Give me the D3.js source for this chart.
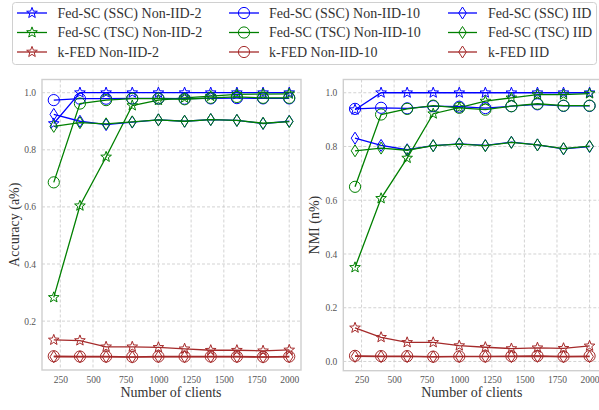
<!DOCTYPE html>
<html><head><meta charset="utf-8">
<script src="https://cdn.jsdelivr.net/npm/d3@7"></script>
<style>
html,body{margin:0;padding:0;background:#fff;}
svg{display:block;}
svg text{font-family:"Liberation Serif","Times New Roman","DejaVu Serif",serif;}
</style></head>
<body><svg id="c" width="599" height="410"></svg>
<script>
const clients = [200,400,600,800,1000,1200,1400,1600,1800,2000];
const xTicks = [250,500,750,1000,1250,1500,1750,2000];
const accTicks = [0.2,0.4,0.6,0.8,1.0];
const nmiTicks = [0.0,0.2,0.4,0.6,0.8,1.0];

const seriesNames = ["Fed-SC (SSC) Non-IID-2","Fed-SC (TSC) Non-IID-2","k-FED Non-IID-2",
  "Fed-SC (SSC) Non-IID-10","Fed-SC (TSC) Non-IID-10","k-FED Non-IID-10",
  "Fed-SC (SSC) IID","Fed-SC (TSC) IID","k-FED IID"];

// Accuracy
const accSscN2  = [0.892,1.0,1.0,1.0,1.0,1.0,1.0,1.0,1.0,1.0];
const accTscN2  = [0.283,0.604,0.775,0.955,0.974,0.982,0.988,0.994,0.995,0.996];
const accKfedN2 = [0.134,0.132,0.110,0.110,0.108,0.103,0.098,0.098,0.096,0.099];
const accSscN10 = [0.974,0.979,0.979,0.980,0.980,0.979,0.980,0.981,0.980,0.980];
const accTscN10 = [0.686,0.962,0.974,0.979,0.979,0.977,0.982,0.985,0.982,0.982];
const accKfedN10= [0.077,0.076,0.076,0.075,0.076,0.076,0.076,0.076,0.075,0.076];
const accSscIID = [0.924,0.900,0.888,0.897,0.905,0.900,0.906,0.903,0.892,0.900];
const accTscIID = [0.882,0.895,0.891,0.898,0.905,0.900,0.906,0.903,0.893,0.899];
const accKfedIID= [0.075,0.075,0.075,0.074,0.075,0.075,0.075,0.075,0.074,0.075];

// NMI
const nmiSscN2  = [0.937,1.0,1.0,1.0,1.0,1.0,1.0,1.0,1.0,1.0];
const nmiTscN2  = [0.350,0.607,0.757,0.922,0.945,0.969,0.981,0.993,0.993,0.997];
const nmiKfedN2 = [0.125,0.090,0.071,0.071,0.059,0.053,0.048,0.051,0.049,0.058];
const nmiSscN10 = [0.940,0.944,0.942,0.950,0.948,0.943,0.950,0.957,0.951,0.951];
const nmiTscN10 = [0.650,0.919,0.940,0.952,0.944,0.937,0.950,0.959,0.952,0.952];
const nmiKfedN10= [0.021,0.020,0.020,0.018,0.019,0.019,0.020,0.021,0.019,0.020];
const nmiSscIID = [0.831,0.804,0.788,0.803,0.810,0.804,0.816,0.806,0.791,0.800];
const nmiTscIID = [0.784,0.794,0.786,0.803,0.809,0.803,0.815,0.806,0.792,0.801];
const nmiKfedIID= [0.019,0.018,0.018,0.017,0.018,0.018,0.018,0.019,0.017,0.018];

const blue="#0000ff", green="#008000", red="#a52a2a";
const colors=[blue,green,red,blue,green,red,blue,green,red];
const markers=["star","star","star","circle","circle","circle","diamond","diamond","diamond"];
const accData=[accSscN2,accTscN2,accKfedN2,accSscN10,accTscN10,accKfedN10,accSscIID,accTscIID,accKfedIID];
const nmiData=[nmiSscN2,nmiTscN2,nmiKfedN2,nmiSscN10,nmiTscN10,nmiKfedN10,nmiSscIID,nmiTscIID,nmiKfedIID];
const SERIF='"Liberation Serif","Times New Roman","DejaVu Serif",serif';

function markerPath(type){
  if(type==="circle"){ const p=d3.path();p.arc(0,0,5.6,0,2*Math.PI);p.closePath();return p.toString(); }
  if(type==="diamond"){ const h=6,w=3.8; return `M0,${-h}L${w},0L0,${h}L${-w},0Z`; }
  const R=5.6, r=R*0.42; let s="";
  for(let i=0;i<10;i++){const a=-Math.PI/2+i*Math.PI/5; const rr=i%2?r:R; s+=(i?"L":"M")+(rr*Math.cos(a)).toFixed(2)+","+(rr*Math.sin(a)).toFixed(2);}
  return s+"Z";
}

const svg=d3.select("#c");

function panel(x0,x1,y0,y1,yDom,yTicks,data,label,lx,id){
  const x=d3.scaleLinear().domain([110,2090]).range([x0,x1]);
  const y=d3.scaleLinear().domain(yDom).range([y1,y0]);
  const g=svg.append("g");
  g.append("clipPath").attr("id",id).append("rect").attr("x",x0).attr("y",y0).attr("width",x1-x0).attr("height",y1-y0);
  g.append("g").selectAll("line").data(xTicks).join("line")
    .attr("x1",d=>x(d)).attr("x2",d=>x(d)).attr("y1",y0).attr("y2",y1)
    .attr("stroke","#c8c8c8").attr("stroke-width",0.8).attr("stroke-dasharray","3,2");
  g.append("g").selectAll("line").data(yTicks).join("line")
    .attr("y1",d=>y(d)).attr("y2",d=>y(d)).attr("x1",x0).attr("x2",x1)
    .attr("stroke","#c8c8c8").attr("stroke-width",0.8).attr("stroke-dasharray","3,2");
  const xa=d3.axisBottom(x).tickValues(xTicks).tickSize(0).tickPadding(6).tickFormat(d3.format("d"));
  const xg=g.append("g").attr("transform",`translate(0,${y1})`).call(xa);
  const ya=d3.axisLeft(y).tickValues(yTicks).tickSize(0).tickPadding(6).tickFormat(d3.format(".1f"));
  const yg=g.append("g").attr("transform",`translate(${x0},0)`).call(ya);
  [xg,yg].forEach(a=>{a.attr("font-family",SERIF);a.select(".domain").remove();a.selectAll("text").attr("font-family",SERIF).attr("font-size",9.5).attr("fill","#555");});
  g.append("rect").attr("x",x0).attr("y",y0).attr("width",x1-x0).attr("height",y1-y0)
    .attr("fill","none").attr("stroke","#cfcfcf").attr("stroke-width",1.4);
  const line=d3.line().x((d,i)=>x(clients[i])).y(d=>y(d));
  const sg=g.append("g").attr("clip-path",`url(#${id})`);
  data.forEach((arr,k)=>{
    const s=sg.append("g");
    s.append("path").attr("d",line(arr)).attr("fill","none").attr("stroke",colors[k]).attr("stroke-width",1.3);
    s.selectAll("path.m").data(arr).join("path").attr("class","m")
      .attr("d",markerPath(markers[k]))
      .attr("transform",(d,i)=>`translate(${x(clients[i])},${y(d)})`)
      .attr("fill","none").attr("stroke",colors[k]).attr("stroke-width",1);
  });
  svg.append("text").attr("x",(x0+x1)/2-0.5).attr("y",397).attr("text-anchor","middle")
    .attr("font-family",SERIF).attr("font-size",14).attr("fill","#333").text("Number of clients");
  svg.append("text").attr("transform",`translate(${lx},${(y0+y1)/2}) rotate(-90)`).attr("text-anchor","middle")
    .attr("dominant-baseline","middle").attr("font-family",SERIF).attr("font-size",14).attr("fill","#333").text(label);
}

panel(42,301,79.5,370,[0.0288,1.0462],accTicks,accData,"Accuracy (a%)",16,"cl1");
panel(343.3,601.3,79.5,370.7,[-0.0343,1.0493],nmiTicks,nmiData,"NMI (n%)",316,"cl2");

const leg=svg.append("g");
leg.append("rect").attr("x",12.5).attr("y",2.5).attr("width",584).attr("height",62).attr("rx",3)
  .attr("fill","#fff").attr("stroke","#d0d0d0").attr("stroke-width",1);
const colX=[[17,47,57.5],[229,259,269],[448,477,488]];
const rowY=[13,32.5,52];
seriesNames.forEach((nm,k)=>{
  const c=Math.floor(k/3), r=k%3;
  const [a,b,t]=colX[c], yy=rowY[r];
  leg.append("line").attr("x1",a).attr("x2",b).attr("y1",yy).attr("y2",yy).attr("stroke",colors[k]).attr("stroke-width",1.3);
  leg.append("path").attr("d",markerPath(markers[k])).attr("transform",`translate(${(a+b)/2},${yy})`)
    .attr("fill","none").attr("stroke",colors[k]).attr("stroke-width",1);
  leg.append("text").attr("x",t).attr("y",yy).attr("dominant-baseline","central").attr("font-family",SERIF).attr("font-size",14)
    .attr("fill","#333").text(nm);
});
</script></body></html>
